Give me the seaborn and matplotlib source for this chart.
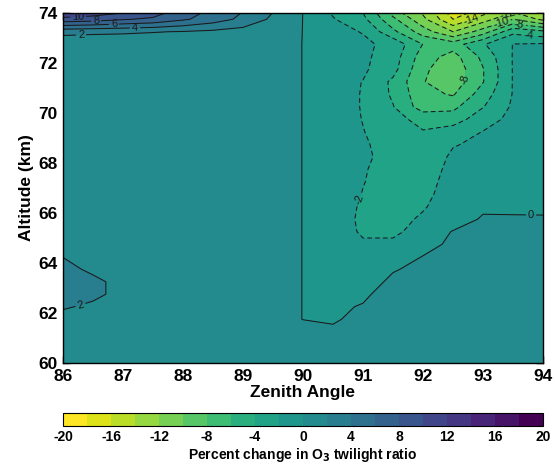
import numpy as np
import matplotlib
matplotlib.use("Agg")
import matplotlib.pyplot as plt
import seaborn as sns
from matplotlib.colors import ListedColormap, BoundaryNorm

# ---------------- data ----------------
zenith = [86, 86.5, 87, 87.5, 88, 88.5, 89, 89.5, 90,
          90.5, 91, 91.5, 92, 92.5, 93, 93.5, 94]
altitude = [59.75, 60.25, 60.75, 61.25, 61.75, 62.25, 62.75, 63.25, 63.75,
            64.25, 64.75, 65.25, 65.75, 66.25, 66.75, 67.25, 67.75, 68.25,
            68.75, 69.25, 69.75, 70.25, 70.75, 71.25, 71.75, 72.25, 72.75,
            73.25, 73.75, 74.25]
L = [0.5] * 8  # flat left part of a row (86 .. 89.5)
pct_change = [
    L + [0.5, 0.5, 0.5, 1.0, 0.5, 0.5, 0.5, 0.5, 0.5],
    L + [0.5, 0.5, 0.5, 1.0, 0.5, 0.5, 0.5, 0.5, 0.5],
    L + [0.5, 0.5, 0.5, 1.0, 0.5, 0.5, 0.5, 0.5, 0.5],
    L + [0.5, 0.3, 0.5, 1.0, 0.5, 0.5, 0.5, 0.5, 0.5],
    [1.0, 0.8, 0.5, 0.5, 0.5, 0.5, 0.5, 0.5, -0.02, -0.2, 0.5, 1.2, 0.5, 0.5, 0.5, 0.5, 0.5],
    [2.3, 1.5, 0.8, 0.5, 0.5, 0.5, 0.5, 0.5, -0.02, -0.5, 0.2, 1.3, 0.5, 0.5, 0.5, 0.5, 0.5],
    [3.0, 2.6, 1.2, 0.5, 0.5, 0.5, 0.5, 0.5, -0.02, -0.7, -0.5, 1.3, 0.5, 0.5, 0.5, 0.5, 0.5],
    [3.2, 2.6, 1.2, 0.5, 0.5, 0.5, 0.5, 0.5, -0.02, -0.9, -0.9, 0.4, 0.5, 0.5, 0.5, 0.5, 0.5],
    [2.8, 1.5, 0.8, 0.5, 0.5, 0.5, 0.5, 0.5, -0.02, -1.0, -1.2, -0.15, 0.5, 0.5, 0.5, 0.5, 0.5],
    [1.95, 0.8, 0.5, 0.5, 0.5, 0.5, 0.5, 0.5, -0.02, -1.1, -1.5, -0.8, 0.05, 0.5, 0.5, 0.5, 0.5],
    [1.0, 0.6, 0.5, 0.5, 0.5, 0.5, 0.5, 0.5, -0.02, -1.15, -1.8, -1.6, -0.6, 0.34, 0.5, 0.5, 0.5],
    L + [-0.02, -1.2, -2.2, -2.4, -1.2, 0.1, 0.5, 0.5, 0.5],
    L + [-0.02, -1.2, -2.3, -2.6, -1.75, -0.9, 0.2, 0.2, 0.15],
    L + [-0.02, -1.2, -2.2, -2.7, -2.15, -1.1, -0.3, -0.35, -0.3],
    L + [-0.02, -1.2, -2.05, -2.7, -2.4, -1.3, -0.6, -0.6, -0.5],
    L + [-0.02, -1.2, -1.95, -2.6, -2.6, -1.4, -0.9, -0.8, -0.6],
    L + [-0.02, -1.2, -1.9, -2.5, -2.8, -1.55, -1.2, -1.0, -0.65],
    L + [-0.02, -1.2, -1.8, -2.4, -3.0, -1.75, -1.45, -1.2, -0.7],
    L + [-0.02, -1.2, -1.85, -2.5, -3.3, -2.1, -1.7, -1.35, -0.7],
    L + [-0.02, -1.2, -1.95, -2.8, -3.9, -3.0, -1.95, -1.45, -0.75],
    L + [-0.02, -1.2, -2.05, -3.4, -4.6, -5.0, -2.8, -1.5, -0.75],
    L + [-0.02, -1.2, -2.1, -3.9, -7.0, -6.5, -4.1, -1.7, -0.8],
    L + [-0.02, -1.2, -2.1, -4.3, -7.4, -8.2, -5.0, -1.9, -0.8],
    L + [-0.02, -1.2, -2.05, -4.4, -7.9, -9.2, -6.1, -1.9, -0.8],
    L + [-0.02, -1.2, -1.7, -3.3, -7.6, -9.4, -6.1, -1.9, -0.8],
    L + [-0.02, -1.2, -1.6, -3.0, -7.0, -8.8, -5.5, -1.9, -0.8],
    [0.6, 0.6, 0.55, 0.55, 0.5, 0.5, 0.5, 0.5, -0.02, -1.2, -1.6, -2.6, -6.05, -7.0, -4.2, -1.95, -1.8],
    [2.6, 2.4, 2.3, 2.1, 1.9, 1.6, 1.2, 0.8, -0.02, -1.4, -2.1, -5.5, -9.0, -12.0, -9.0, -4.5, -5.5],
    [9.4, 9.0, 8.2, 7.6, 6.3, 5.0, 3.5, 1.6, -0.02, -1.85, -3.5, -7.5, -11.5, -16.0, -13.0, -10.0, -12.5],
    [13.6, 12.8, 11.8, 10.4, 8.0, 6.0, 4.3, 2.3, -0.02, -2.6, -4.5, -10.0, -13.0, -18.0, -16.0, -13.5, -14.0],
]
levels = list(range(-20, 22, 2))
cbar_ticks = list(range(-20, 24, 4))
x_ticks = [86, 87, 88, 89, 90, 91, 92, 93, 94]
y_ticks = [60, 62, 64, 66, 68, 70, 72, 74]
label_spots = [(86.25, 73.84), (86.55, 73.7), (86.85, 73.57), (87.2, 73.42),
               (86.3, 73.12), (86.3, 62.25), (90.87, 66.6), (92.62, 71.35),
               (92.8, 73.8), (93.42, 73.9), (93.3, 73.62), (93.6, 73.5),
               (93.75, 73.0), (93.8, 65.9)]

# ---------------- style ----------------
sns.set_theme(style="ticks")
plt.rcParams["font.family"] = ["Liberation Sans", "DejaVu Sans"]
plt.rcParams["font.weight"] = "bold"
plt.rcParams["axes.labelweight"] = "bold"
plt.rcParams["axes.unicode_minus"] = False
for key in ["text.color", "axes.labelcolor", "xtick.color", "ytick.color",
            "axes.edgecolor"]:
    plt.rcParams[key] = "black"

palette = sns.color_palette("viridis_r", as_cmap=True)
cmap = ListedColormap(palette(np.linspace(0, 1, len(levels) - 1)))
norm = BoundaryNorm(levels, cmap.N)

fig = plt.figure(figsize=(5.55, 4.67), dpi=100)
ax = fig.add_axes([63 / 555, 1 - 363 / 467, 480 / 555, 350 / 467])
cax = fig.add_axes([63 / 555, 1 - 426 / 467, 480 / 555, 13 / 467])

X, Y = np.meshgrid(zenith, altitude)
Z = np.array(pct_change)
cf = ax.contourf(X, Y, Z, levels=levels, cmap=cmap, norm=norm)
styles = [(0, (4.5, 3)) if lv < 0 else "solid" for lv in levels]
cs = ax.contour(X, Y, Z, levels=levels, colors="k", linewidths=0.75,
                linestyles=styles)
txts = ax.clabel(cs, fmt="%d", fontsize=8, inline=True, inline_spacing=2,
                 manual=label_spots, colors="k")
for t in txts:
    t.set_fontweight("normal")

ax.set_xlim(86, 94)
ax.set_ylim(60, 74)
ax.set_xticks(x_ticks)
ax.set_yticks(y_ticks)
ax.tick_params(direction="in", top=True, right=True, length=5, width=1,
               labelsize=12.5, pad=4, colors="black")
for s in ax.spines.values():
    s.set_linewidth(1.0)
    s.set_color("black")
ax.set_xlabel("Zenith Angle", fontsize=12.5, fontweight="bold", labelpad=1)
ax.set_ylabel("Altitude (km)", fontsize=12.5, fontweight="bold", labelpad=3)

cb = fig.colorbar(cf, cax=cax, orientation="horizontal", ticks=cbar_ticks)
cb.ax.minorticks_off()
cb.ax.tick_params(length=0, labelsize=10, pad=3, colors="black")
cb.outline.set_linewidth(0.8)
cb.set_label("Percent change in O$_3$ twilight ratio", fontsize=10,
             fontweight="bold", labelpad=1)
for lab in cb.ax.get_xticklabels():
    lab.set_fontweight("bold")

fig.savefig("out.png", dpi=100)
